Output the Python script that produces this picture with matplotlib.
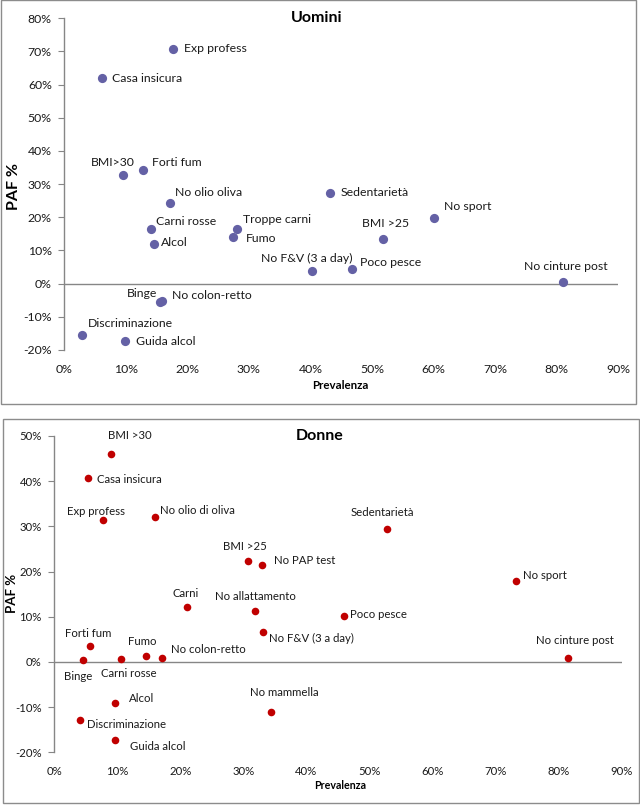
import matplotlib
matplotlib.use("Agg")
import matplotlib.pyplot as plt
from matplotlib.patches import Rectangle
from matplotlib.ticker import FuncFormatter

plt.rcParams['font.family'] = ['Lato', 'DejaVu Sans']

# ---------------- Data: Uomini ----------------
men_labels = ["Exp profess", "Casa insicura", "BMI>30", "Forti fum", "No olio oliva",
              "Carni rosse", "Alcol", "Troppe carni", "Fumo", "No F&V (3 a day)",
              "Binge", "No colon-retto", "Discriminazione", "Guida alcol",
              "Sedentarietà", "No sport", "BMI >25", "Poco pesce", "No cinture post"]
men_prev = [17.6, 6.2, 9.5, 12.8, 17.2, 14.1, 14.5, 28.1, 27.4, 40.3,
            15.6, 15.9, 2.8, 9.9, 43.2, 60.1, 51.8, 46.7, 81.1]
men_paf = [70.8, 62.0, 32.8, 34.2, 24.3, 16.6, 12.0, 16.6, 14.0, 3.8,
           -5.6, -5.3, -15.4, -17.4, 27.4, 19.7, 13.4, 4.4, 0.5]

# ---------------- Data: Donne ----------------
women_labels = ["BMI >30", "Casa insicura", "Exp profess", "No olio di oliva", "BMI >25",
                "No PAP test", "Carni", "No allattamento", "No F&V (3 a day)", "Forti fum",
                "Binge", "Carni rosse", "Fumo", "No colon-retto", "Alcol",
                "Discriminazione", "Guida alcol", "No mammella", "Sedentarietà",
                "No sport", "Poco pesce", "No cinture post"]
women_prev = [9.0, 5.4, 7.8, 15.9, 30.7, 33.0, 21.1, 31.9, 33.1, 5.6,
              4.6, 10.6, 14.6, 17.1, 9.7, 4.0, 9.7, 34.3, 52.8, 73.2, 45.9, 81.5]
women_paf = [46.0, 40.8, 31.4, 32.1, 22.3, 21.5, 12.1, 11.2, 6.6, 3.5,
             0.5, 0.7, 1.3, 0.8, -9.2, -12.8, -17.3, -11.0, 29.4, 18.0, 10.2, 0.8]

x_ticks = [0, 10, 20, 30, 40, 50, 60, 70, 80, 90]
men_yticks = [-20, -10, 0, 10, 20, 30, 40, 50, 60, 70, 80]
women_yticks = [-20, -10, 0, 10, 20, 30, 40, 50]

# label offsets in pixels (dx, dy up) and horizontal alignment
men_offsets = {
    "Exp profess": (11.6, 0, 'left'), "Casa insicura": (9.7, 0, 'left'),
    "BMI>30": (-10, 12.6, 'center'), "Forti fum": (8.7, 7.4, 'left'),
    "No olio oliva": (4.7, 11, 'left'), "Carni rosse": (5, 6.6, 'left'),
    "Alcol": (7.3, 1, 'left'), "Troppe carni": (6.3, 8.6, 'left'),
    "Fumo": (13, -1, 'left'), "No F&V (3 a day)": (-5, 13, 'center'),
    "Binge": (-3.3, 9, 'right'), "No colon-retto": (9.7, 6, 'left'),
    "Discriminazione": (6, 11, 'left'), "Guida alcol": (11, 0, 'left'),
    "Sedentarietà": (11, 0, 'left'), "No sport": (10.3, 12.3, 'left'),
    "BMI >25": (2.3, 16, 'center'), "Poco pesce": (8.3, 7, 'left'),
    "No cinture post": (3, 16, 'center'),
}
women_offsets = {
    "BMI >30": (19, 18.3, 'center'), "Casa insicura": (9, -2.3, 'left'),
    "Exp profess": (-7, 9, 'center'), "No olio di oliva": (5.7, 6.7, 'left'),
    "BMI >25": (-3, 14.3, 'center'), "No PAP test": (11.7, 4, 'left'),
    "Carni": (-2, 13.6, 'center'), "No allattamento": (0, 15.3, 'center'),
    "No F&V (3 a day)": (6.3, -6, 'left'), "Forti fum": (-1.5, 13, 'center'),
    "Binge": (-5, -17, 'center'), "Carni rosse": (7.5, -14.3, 'center'),
    "Fumo": (-4.5, 15, 'center'), "No colon-retto": (8.7, 9.3, 'left'),
    "Alcol": (13.6, 5, 'left'), "Discriminazione": (7.6, -4.3, 'left'),
    "Guida alcol": (14.6, -6, 'left'), "No mammella": (14, 19, 'center'),
    "Sedentarietà": (-5.3, 16.6, 'center'), "No sport": (7.4, 5.4, 'left'),
    "Poco pesce": (6.7, 1.3, 'left'), "No cinture post": (6.6, 17.6, 'center'),
}

W, H = 640, 805
fig = plt.figure(figsize=(6.4, 8.05), dpi=100)

# panel borders
for (x0, y0, x1, y1) in [(1, 0.5, 635.5, 404), (3, 419, 638.5, 803)]:
    fig.patches.append(Rectangle((x0 / W, 1 - y1 / H), (x1 - x0) / W, (y1 - y0) / H,
                                 transform=fig.transFigure, fill=False,
                                 edgecolor='#8c8c8c', linewidth=1.0))

pct = FuncFormatter(lambda v, p: f"{int(round(v))}%")
GRAY = '#868686'


def make_panel(rect, xs, ys, labels, offsets, yticks, color, msize, title, fs,
               ylabel, xlabel_y, title_y):
    ax = fig.add_axes(rect)
    ax.scatter(xs, ys, s=msize, color=color, zorder=3, linewidths=0)
    for x, y, lab in zip(xs, ys, labels):
        dx, dy, ha = offsets[lab]
        ax.annotate(lab, (x, y), xytext=(dx * 0.72, dy * 0.72), textcoords='offset points',
                    ha=ha, va='center', fontsize=fs, color='#1a1a1a')
    ax.set_xlim(0, 90)
    ax.set_ylim(yticks[0], yticks[-1])
    ax.set_xticks(x_ticks)
    ax.set_yticks(yticks)
    ax.xaxis.set_major_formatter(pct)
    ax.yaxis.set_major_formatter(pct)
    for s in ['top', 'right', 'bottom']:
        ax.spines[s].set_visible(False)
    ax.spines['left'].set_color(GRAY)
    ax.spines['left'].set_linewidth(1.0)
    ax.axhline(0, color=GRAY, lw=1.0, zorder=1)
    ax.tick_params(axis='x', length=0, pad=10, labelsize=fs, labelcolor='#1a1a1a')
    ax.tick_params(axis='y', length=4, direction='out', color=GRAY, pad=5,
                   labelsize=fs, labelcolor='#1a1a1a')
    ax.set_facecolor('none')
    yl_x, yl_y, yl_fs = ylabel
    fig.text(yl_x / W, 1 - yl_y / H, "PAF %", rotation=90,
             ha='center', va='center', fontsize=yl_fs, fontweight='bold')
    fig.text(340 / W, 1 - xlabel_y / H, "Prevalenza",
             ha='center', va='center', fontsize=fs - 0.5, fontweight='bold')
    fig.text(title[1] / W, 1 - title_y / H, title[0], ha='center', va='center',
             fontsize=11.5, fontweight='bold')
    return ax


top_rect = [64.3 / W, 1 - 350 / H, (618 - 64.3) / W, (350 - 18.3) / H]
bot_rect = [54.3 / W, 1 - 752.3 / H, (621.7 - 54.3) / W, (752.3 - 436) / H]

make_panel(top_rect, men_prev, men_paf, men_labels, men_offsets, men_yticks,
           '#6461A5', 44, ("Uomini", 317), 8.8, (14.5, 186, 11.5), 385.5, 18.5)
make_panel(bot_rect, women_prev, women_paf, women_labels, women_offsets, women_yticks,
           '#C00000', 30, ("Donne", 320), 8.2, (12, 593, 9.5), 785, 436)

fig.savefig("out.png", dpi=100)
